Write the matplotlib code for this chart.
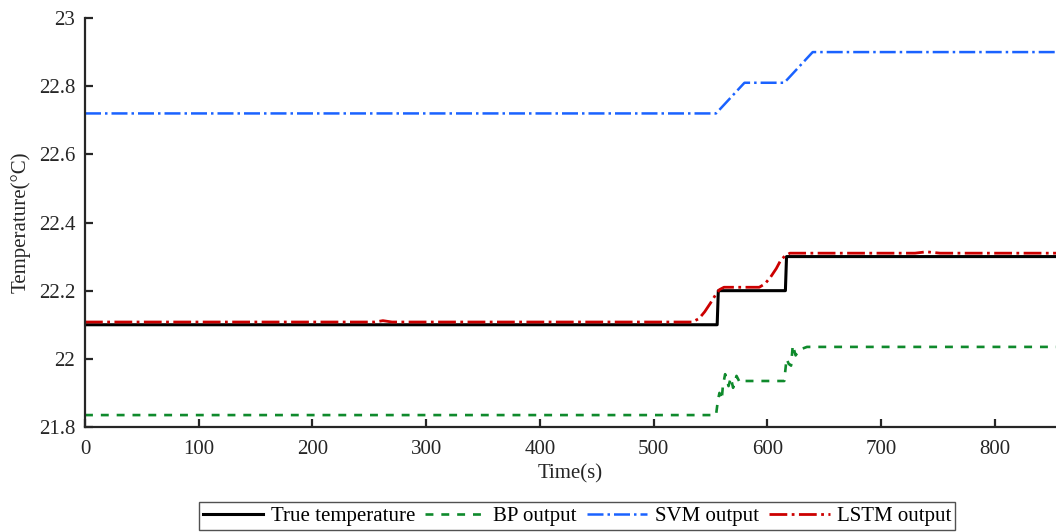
import matplotlib.pyplot as plt

plt.rcParams['font.family'] = ['Liberation Serif', 'DejaVu Serif']

# time (s) / temperature (degC)
true_t = [0, 556, 557, 616, 617, 860]
true_v = [22.1, 22.1, 22.2, 22.2, 22.3, 22.3]

bp_t = [0, 555, 556.5, 558, 560, 561, 563, 566, 568, 570, 573, 576, 580,
        615, 617, 619, 621, 622.5, 625, 628, 631, 635, 860]
bp_v = [21.835, 21.835, 21.875, 21.90, 21.88, 21.92, 21.955, 21.92, 21.945,
        21.915, 21.95, 21.93, 21.935, 21.935, 22.0, 21.985, 21.98, 22.04,
        22.01, 22.025, 22.03, 22.035, 22.035]

svm_t = [0, 555, 580, 615, 640, 860]
svm_v = [22.72, 22.72, 22.81, 22.81, 22.90, 22.90]

lstm_t = [0, 255, 262, 270, 534, 540, 545, 550, 555, 558, 562, 593, 598,
          603, 608, 612, 616, 620, 730, 740, 752, 860]
lstm_v = [22.108, 22.108, 22.112, 22.108, 22.108, 22.118, 22.138, 22.163,
          22.19, 22.203, 22.21, 22.21, 22.22, 22.24, 22.265, 22.29, 22.303,
          22.31, 22.31, 22.314, 22.31, 22.31]

fig = plt.figure(figsize=(10.56, 5.32), dpi=100)
ax = fig.add_axes([85 / 1056, 1 - 427 / 532, 1 - 85 / 1056, 409 / 532])

ax.plot(true_t, true_v, color='black', lw=2.2, label='True temperature')
ax.plot(bp_t, bp_v, color='#0f8a2c', lw=1.9, dashes=(3, 3), label='BP output')
ax.plot(svm_t, svm_v, color='#1a62ff', lw=1.8, linestyle='-.', label='SVM output')
ax.plot(lstm_t, lstm_v, color='#cc0000', lw=2.0, linestyle='-.', label='LSTM output')

ax.set_xlim(0, 854)
ax.set_ylim(21.8, 23)
ax.set_xticks(range(0, 900, 100))
ax.set_yticks([21.8, 22, 22.2, 22.4, 22.6, 22.8, 23])
ax.set_yticklabels(['21.8', '22', '22.2', '22.4', '22.6', '22.8', '23'])

for s in ['top', 'right']:
    ax.spines[s].set_visible(False)
for s in ['left', 'bottom']:
    ax.spines[s].set_linewidth(1.6)
    ax.spines[s].set_color('#262626')
ax.tick_params(direction='in', length=6, width=1.6, colors='#262626',
               labelsize=15, labelcolor='#262626', pad=7)
ax.tick_params(axis='x', pad=9)

ax.set_xlabel('Time(s)', fontsize=15, color='#262626', labelpad=4)
ax.set_ylabel('Temperature(°C)', fontsize=15, color='#262626', labelpad=6)

leg = fig.legend(loc='center', bbox_to_anchor=(577 / 1056, 1 - 516 / 532), ncol=4,
                 fontsize=15, frameon=True, fancybox=False, handlelength=2.9,
                 columnspacing=0.5, handletextpad=0.35, borderpad=0.2)
leg.get_frame().set_edgecolor('#262626')
leg.get_frame().set_linewidth(1.0)

fig.savefig('out.png', dpi=100)
